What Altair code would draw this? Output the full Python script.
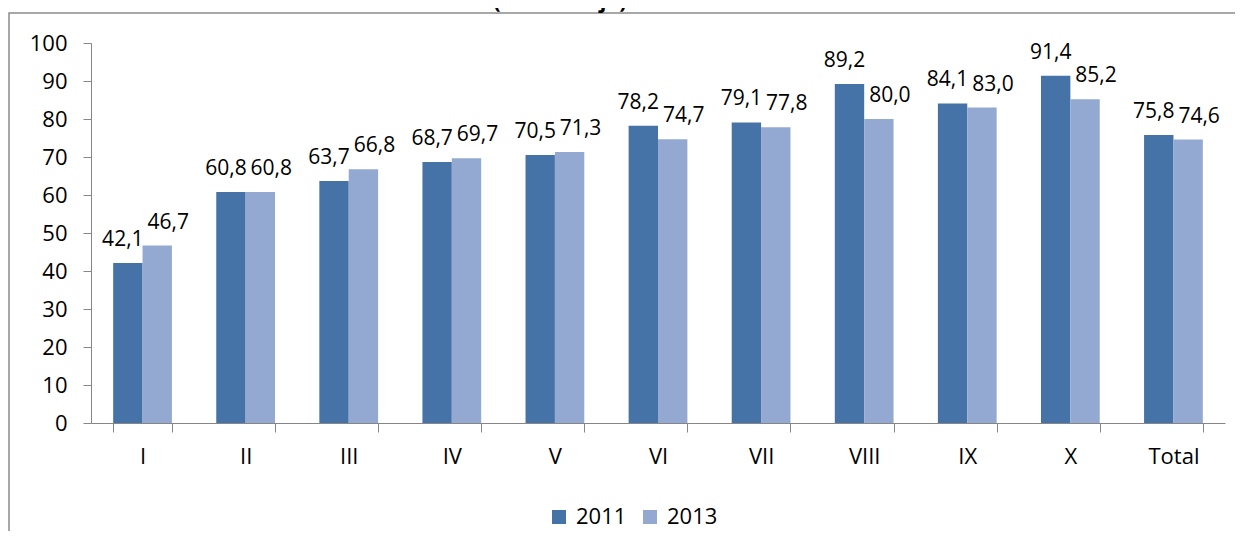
import altair as alt
import pandas as pd

categories = ["I", "II", "III", "IV", "V", "VI", "VII", "VIII", "IX", "X", "Total"]
values_2011 = [42.1, 60.8, 63.7, 68.7, 70.5, 78.2, 79.1, 89.2, 84.1, 91.4, 75.8]
values_2013 = [46.7, 60.8, 66.8, 69.7, 71.3, 74.7, 77.8, 80.0, 83.0, 85.2, 74.6]
series = ["2011", "2013"]
colors = ["#4572A7", "#94A9D1"]
title_text = "(Porcentaje)"

rows = []
for c, a, b in zip(categories, values_2011, values_2013):
    rows.append({"cat": c, "serie": series[0], "v": a})
    rows.append({"cat": c, "serie": series[1], "v": b})
df = pd.DataFrame(rows)

FONT = "Open Sans"
W, H = 1134, 380

base = alt.Chart(df)

x_enc = alt.X(
    "cat:N",
    sort=categories,
    title=None,
    scale=alt.Scale(paddingInner=0.43, paddingOuter=0.215),
    axis=alt.Axis(
        labelAngle=0,
        tickBand="extent",
        tickSize=9,
        labelPadding=14,
        domainColor="#868686",
        tickColor="#868686",
        labelFont=FONT,
        labelFontSize=22,
        labelColor="#000000",
        grid=False,
    ),
)
y_enc = alt.Y(
    "v:Q",
    title=None,
    scale=alt.Scale(domain=[0, 100], nice=False),
    axis=alt.Axis(
        values=list(range(0, 101, 10)),
        tickCount=11,
        labelOverlap=False,
        tickSize=8,
        labelPadding=16,
        domainColor="#868686",
        tickColor="#868686",
        labelFont=FONT,
        labelFontSize=22,
        labelColor="#000000",
        grid=False,
    ),
)
xoff = alt.XOffset("serie:N", sort=series, scale=alt.Scale(paddingInner=0, paddingOuter=0))

bars = base.mark_bar().encode(
    x=x_enc,
    y=y_enc,
    xOffset=xoff,
    color=alt.Color(
        "serie:N",
        sort=series,
        scale=alt.Scale(domain=series, range=colors),
        legend=alt.Legend(
            title=None,
            orient="none",
            direction="horizontal",
            legendX=457,
            legendY=463,
            symbolType="square",
            symbolSize=196,
            symbolStrokeWidth=0,
            labelFont=FONT,
            labelFontSize=22,
            labelColor="#000000",
            labelOffset=6,
            columnPadding=12,
            padding=0,
        ),
    ),
)

label_expr = "replace(format(datum.v, '.1f'), '.', ',')"

def labels(serie, dx):
    return base.transform_filter(alt.datum.serie == serie).transform_calculate(
        lab=label_expr
    ).mark_text(
        font=FONT, fontSize=21, color="#000000", baseline="alphabetic", dy=-17, dx=dx
    ).encode(
        x=x_enc,
        y=y_enc,
        xOffset=xoff,
        text="lab:N",
    )

lab1 = labels("2011", -5)
lab2 = labels("2013", 11)

one = alt.Data(values=[{}])
frame = alt.Chart(one).mark_rect(filled=False, stroke="#8C8C8C", strokeWidth=1.5).encode(
    x=alt.value(-82), x2=alt.value(1400), y=alt.value(-30), y2=alt.value(700)
)
title = alt.Chart(one).mark_text(
    font=FONT, fontSize=22, fontWeight="bold", color="#000000", baseline="alphabetic"
).encode(x=alt.value(469), y=alt.value(-35), text=alt.value(title_text))

chart = alt.layer(frame, title, bars, lab1, lab2).properties(
    width=W,
    height=H,
    autosize=alt.AutoSizeParams(type="none"),
    padding={"left": 83, "top": 35, "right": 10, "bottom": 108},
).configure(
    background="white",
    view=alt.ViewConfig(strokeWidth=0, stroke="transparent"),
)

chart.save("out.html", embed_options={"renderer": "svg", "actions": False})
